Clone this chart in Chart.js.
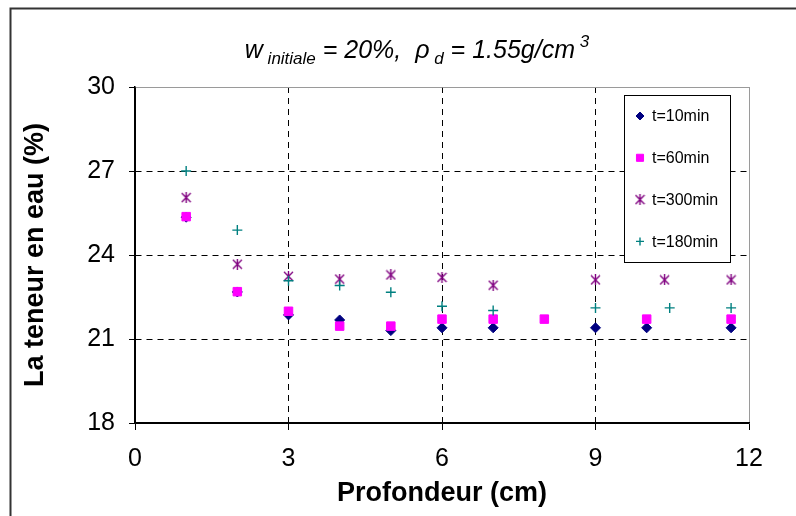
<!DOCTYPE html>
<html>
<head>
<meta charset="utf-8">
<style>
  html, body { margin: 0; padding: 0; background: #fff; }
  #wrap { width: 796px; height: 516px; position: relative; }
</style>
<script src="https://cdn.jsdelivr.net/npm/chart.js@4.4.1/dist/chart.umd.min.js"></script>
</head>
<body>
<div id="wrap"><canvas id="chart" width="796" height="516"></canvas></div>
<script>
// ========== données ==========
const seriesNames = ['t=10min', 't=60min', 't=300min', 't=180min'];

const depth10 = [1, 2, 3, 4, 5, 6, 7, 9, 10, 11.65];
const teneur10 = [25.35, 22.68, 21.86, 21.68, 21.30, 21.40, 21.40, 21.40, 21.40, 21.40];

const depth60 = [1, 2, 3, 4, 5, 6, 7, 8, 10, 11.65];
const teneur60 = [25.37, 22.69, 21.99, 21.46, 21.46, 21.71, 21.71, 21.71, 21.71, 21.71];

const depth300 = [1, 2, 3, 4, 5, 6, 7, 9, 10.35, 11.65];
const teneur300 = [26.05, 23.67, 23.24, 23.14, 23.29, 23.20, 22.92, 23.11, 23.11, 23.11];

const depth180 = [1, 2, 3, 4, 5, 6, 7, 9, 10.45, 11.65];
const teneur180 = [27.00, 24.89, 23.08, 22.91, 22.67, 22.17, 22.02, 22.11, 22.11, 22.11];

const xTicks = [0, 3, 6, 9, 12];
const yTicks = [18, 21, 24, 27, 30];

const FONT = '"Liberation Sans", Arial, sans-serif';

function toPoints(xs, ys) {
    return xs.map((x, i) => ({ x: x, y: ys[i] }));
}

// marqueur "étoile" façon Excel : X + trait vertical
function starMarker(color) {
    const c = document.createElement('canvas');
    c.width = 11; c.height = 11;
    const g = c.getContext('2d');
    g.strokeStyle = color;
    g.lineWidth = 1.4;
    g.beginPath();
    g.moveTo(1, 1); g.lineTo(10, 10);
    g.moveTo(10, 1); g.lineTo(1, 10);
    g.moveTo(5.5, 0); g.lineTo(5.5, 11);
    g.stroke();
    return c;
}

// ========== titre, cadre et légende ==========
const decorPlugin = {
    id: 'decor',
    afterDraw(chart) {
        const ctx = chart.ctx;
        ctx.save();

        // cadre extérieur
        ctx.strokeStyle = '#333';
        ctx.lineWidth = 2;
        ctx.beginPath();
        ctx.moveTo(10.5, 516); ctx.lineTo(10.5, 8.5); ctx.lineTo(796, 8.5);
        ctx.stroke();

        // titre avec indices / exposant
        const parts = [
            { t: 'w', size: 25, dy: 0 },
            { t: ' initiale', size: 17, dy: 6 },
            { t: ' = 20%,  ', size: 25, dy: 0 },
            { t: 'ρ', size: 25, dy: 0 },
            { t: ' d', size: 17, dy: 6 },
            { t: ' = 1.55g/cm', size: 25, dy: 0 },
            { t: ' 3', size: 17, dy: -11 }
        ];
        let total = 0;
        parts.forEach(p => {
            ctx.font = `italic ${p.size}px ${FONT}`;
            p.w = ctx.measureText(p.t).width;
            total += p.w;
        });
        let x = 417 - total / 2;
        const base = 58;
        ctx.fillStyle = '#000';
        ctx.textBaseline = 'alphabetic';
        ctx.textAlign = 'left';
        parts.forEach(p => {
            ctx.font = `italic ${p.size}px ${FONT}`;
            ctx.fillText(p.t, x, base + p.dy);
            x += p.w;
        });

        // légende
        ctx.strokeStyle = '#000';
        ctx.lineWidth = 1;
        ctx.fillStyle = '#fff';
        ctx.fillRect(624.5, 95.5, 106, 167);
        ctx.strokeRect(624.5, 95.5, 106, 167);
        ctx.font = `16px ${FONT}`;
        ctx.textBaseline = 'middle';
        chart.data.datasets.forEach((ds, i) => {
            const y = 116 + i * 41.8;
            ctx.fillStyle = ds.backgroundColor;
            ctx.strokeStyle = ds.borderColor;
            ctx.lineWidth = ds.borderWidth;
            Chart.helpers.drawPoint(ctx, {
                pointStyle: ds.pointStyle,
                radius: ds.legendRadius,
                borderWidth: ds.borderWidth,
                rotation: 0
            }, 640, y);
            ctx.fillStyle = '#000';
            ctx.fillText(ds.label, 652, y + 1);
        });
        ctx.restore();
    }
};

// ========== graphique ==========
const edgeX = 12, edgeY = 30;

const chart = new Chart(document.getElementById('chart'), {
    type: 'scatter',
    data: {
        datasets: [
            { label: seriesNames[0], data: toPoints(depth10, teneur10), pointStyle: 'rectRot', pointRadius: 5, legendRadius: 4,
              backgroundColor: '#000080', borderColor: '#000080', borderWidth: 1, order: 4 },
            { label: seriesNames[1], data: toPoints(depth60, teneur60), pointStyle: 'rect', pointRadius: 6, legendRadius: 5,
              backgroundColor: '#FF00FF', borderColor: '#FF00FF', borderWidth: 1, order: 3 },
            { label: seriesNames[2], data: toPoints(depth300, teneur300), pointStyle: starMarker('#800080'), pointRadius: 5, legendRadius: 5,
              backgroundColor: '#800080', borderColor: '#800080', borderWidth: 1, order: 2 },
            { label: seriesNames[3], data: toPoints(depth180, teneur180), pointStyle: 'cross', pointRadius: 5, legendRadius: 4,
              backgroundColor: '#008080', borderColor: '#008080', borderWidth: 1.4, order: 1 }
        ]
    },
    options: {
        responsive: false,
        animation: false,
        devicePixelRatio: 1,
        layout: { padding: { left: 0, top: 87, right: 47, bottom: 0 } },
        plugins: {
            legend: { display: false },
            tooltip: { enabled: false }
        },
        elements: { point: { hoverRadius: 5 } },
        scales: {
            x: {
                type: 'linear',
                min: xTicks[0],
                max: xTicks[xTicks.length - 1],
                afterBuildTicks: s => { s.ticks = xTicks.map(v => ({ value: v })); },
                afterFit: s => { s.height = 93; },
                ticks: { color: '#000', font: { family: FONT, size: 25 }, padding: 14, maxRotation: 0 },
                grid: {
                    color: c => (c.tick && c.tick.value === edgeX) ? '#9a9a9a' : '#000',
                    lineWidth: 1,
                    tickColor: '#000',
                    tickLength: 7
                },
                border: {
                    color: '#000', width: 1.5,
                    dash: c => (c.tick && c.tick.value > xTicks[0] && c.tick.value < edgeX) ? [6, 5] : []
                },
                title: {
                    display: true, text: 'Profondeur (cm)', color: '#000',
                    font: { family: FONT, size: 27, weight: 'bold' },
                    padding: { top: 0, bottom: 6 }
                }
            },
            y: {
                type: 'linear',
                min: yTicks[0],
                max: yTicks[yTicks.length - 1],
                afterBuildTicks: s => { s.ticks = yTicks.map(v => ({ value: v })); },
                afterFit: s => { s.width = 135; },
                ticks: { color: '#000', font: { family: FONT, size: 25 }, padding: 14 },
                grid: {
                    color: c => (c.tick && c.tick.value === edgeY) ? '#9a9a9a' : '#000',
                    lineWidth: 1,
                    tickColor: '#000',
                    tickLength: 6
                },
                border: {
                    color: '#000', width: 1.5,
                    dash: c => (c.tick && c.tick.value > yTicks[0] && c.tick.value < edgeY) ? [6, 5] : []
                },
                title: {
                    display: true, text: 'La teneur en eau (%)', color: '#000',
                    font: { family: FONT, size: 27, weight: 'bold' },
                    padding: { top: 19, bottom: 0 }
                }
            }
        }
    },
    plugins: [decorPlugin]
});
</script>
</body>
</html>
